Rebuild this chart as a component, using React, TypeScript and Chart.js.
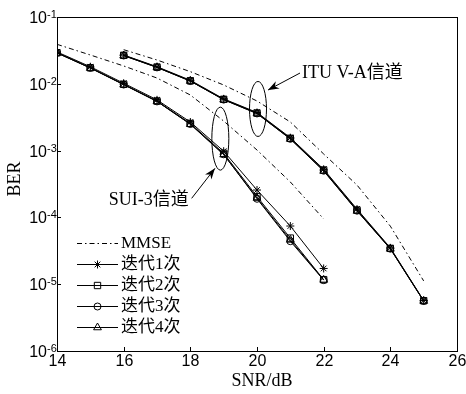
import React, { useEffect, useRef } from "react";
import { Chart, registerables } from "chart.js";
import { drawPoint } from "chart.js/helpers";

Chart.register(...registerables);

// ---------- data ----------
const snrSui = [14, 15, 16, 17, 18, 19, 20, 21, 22];
const snrItu = [16, 17, 18, 19, 20, 21, 22, 23, 24, 25];

const suiMmse = [3.9e-2, 2.7e-2, 1.85e-2, 1.22e-2, 6.8e-3, 2.77e-3, 1.02e-3, 3.39e-4, 9.5e-5];
const suiIter1 = [3.0e-2, 1.8e-2, 1.02e-2, 5.75e-3, 2.68e-3, 9.8e-4, 2.57e-4, 7.43e-5, 1.72e-5];
const suiIter2 = [2.92e-2, 1.74e-2, 9.84e-3, 5.53e-3, 2.55e-3, 9.12e-4, 2.05e-4, 4.9e-5, 1.17e-5];
const suiIter3 = [2.9e-2, 1.73e-2, 9.75e-3, 5.45e-3, 2.5e-3, 8.8e-4, 1.9e-4, 4.4e-5, 1.15e-5];
const suiIter4 = [2.9e-2, 1.72e-2, 9.7e-3, 5.45e-3, 2.48e-3, 8.7e-4, 1.95e-4, 4.6e-5, 1.16e-5];

const ituMmse = [3.24e-2, 2.27e-2, 1.52e-2, 9.6e-3, 5.53e-3, 2.68e-3, 8.9e-4, 3.05e-4, 7.4e-5, 1.12e-5];
const ituIter1 = [2.7e-2, 1.8e-2, 1.13e-2, 5.95e-3, 3.72e-3, 1.56e-3, 5.25e-4, 1.33e-4, 3.5e-5, 5.7e-6];
const ituIter2 = [2.67e-2, 1.78e-2, 1.11e-2, 5.86e-3, 3.66e-3, 1.53e-3, 5.13e-4, 1.29e-4, 3.44e-5, 5.66e-6];
const ituIter3 = [2.65e-2, 1.76e-2, 1.1e-2, 5.8e-3, 3.6e-3, 1.5e-3, 5.0e-4, 1.26e-4, 3.4e-5, 5.6e-6];
const ituIter4 = [2.64e-2, 1.76e-2, 1.1e-2, 5.78e-3, 3.58e-3, 1.49e-3, 4.95e-4, 1.25e-4, 3.38e-5, 5.6e-6];

const legendLabels = ["MMSE", "迭代1次", "迭代2次", "迭代3次", "迭代4次"];
const xTicks = [14, 16, 18, 20, 22, 24, 26];
const yExponents = [-1, -2, -3, -4, -5, -6];
const xTitle = "SNR/dB";
const yTitle = "BER";
const ituLabel = "ITU V-A信道";
const suiLabel = "SUI-3信道";

// ---------- annotation anchors (data coords) ----------
const ituEllipse = { x: 20.03, y: 4.2e-3, rx: 8.5, ry: 27.5 };
const suiEllipse = { x: 18.9, y: 1.51e-3, rx: 8.5, ry: 31.5 };
const ituArrow = { x0: 21.29, y0: 1.45e-2, x1: 20.33, y1: 8.07e-3 };
const suiArrow = { x0: 18.04, y0: 1.93e-4, x1: 18.74, y1: 5.43e-4 };
const ituText = { x: 21.35, y: 1.45e-2 };
const suiText = { x: 17.95, y: 1.8e-4 };

const SERIF = "'Liberation Serif', 'Noto Sans CJK SC', serif";
const SANS = "'Liberation Sans', Arial, sans-serif";

const kindStyles: any[] = [
  { borderDash: [5, 3, 1.5, 3], pointRadius: 0, pointStyle: false },
  { pointStyle: "star", pointRadius: 4 },
  { pointStyle: "rect", pointRadius: 4.5 },
  { pointStyle: "circle", pointRadius: 3.5 },
  { pointStyle: "triangle", pointRadius: 4.5 },
];

const base = {
  borderColor: "#000",
  borderWidth: 1,
  pointBorderColor: "#000",
  pointBackgroundColor: "rgba(0,0,0,0)",
  pointBorderWidth: 1,
  pointHoverRadius: 0,
  fill: false,
  tension: 0,
};

function mk(label: string, xs: number[], ys: number[], kind: number) {
  return {
    label,
    data: xs.map((x, i) => ({ x, y: ys[i] })),
    ...base,
    ...kindStyles[kind],
  };
}

function arrow(ctx: CanvasRenderingContext2D, x0: number, y0: number, x1: number, y1: number) {
  ctx.beginPath();
  ctx.moveTo(x0, y0);
  ctx.lineTo(x1, y1);
  ctx.stroke();
  const a = Math.atan2(y1 - y0, x1 - x0);
  const L = 11, W = 4;
  const bx = x1 - L * Math.cos(a), by = y1 - L * Math.sin(a);
  const nx = x1 - 0.7 * L * Math.cos(a), ny = y1 - 0.7 * L * Math.sin(a);
  const px = -Math.sin(a), py = Math.cos(a);
  ctx.beginPath();
  ctx.moveTo(x1, y1);
  ctx.lineTo(bx + W * px, by + W * py);
  ctx.lineTo(nx, ny);
  ctx.lineTo(bx - W * px, by - W * py);
  ctx.closePath();
  ctx.fill();
}

const decor = {
  id: "decor",
  afterDraw(chart: any) {
    const { ctx, chartArea: ca } = chart;
    const xs = chart.scales.x, ys = chart.scales.y;
    ctx.save();
    ctx.strokeStyle = "#000";
    ctx.fillStyle = "#000";
    ctx.lineWidth = 1;
    ctx.setLineDash([]);
    // frame
    ctx.strokeRect(Math.round(ca.left) + 0.5, Math.round(ca.top) + 0.5, Math.round(ca.right - ca.left), Math.round(ca.bottom - ca.top));
    // x ticks
    ctx.font = `16px ${SANS}`;
    ctx.textAlign = "center";
    ctx.textBaseline = "middle";
    xTicks.forEach((t) => {
      const px = Math.round(xs.getPixelForValue(t)) + 0.5;
      ctx.beginPath();
      ctx.moveTo(px, ca.bottom);
      ctx.lineTo(px, ca.bottom - 4);
      ctx.stroke();
      ctx.fillText(String(t), px, ca.bottom + 11);
    });
    // y ticks
    yExponents.forEach((e) => {
      const py = Math.round(ys.getPixelForValue(Math.pow(10, e))) + 0.5;
      ctx.beginPath();
      ctx.moveTo(ca.left, py);
      ctx.lineTo(ca.left + 4, py);
      ctx.stroke();
      ctx.font = `16px ${SANS}`;
      ctx.textAlign = "right";
      ctx.textBaseline = "middle";
      ctx.fillText("10", ca.left - 10, py + 1);
      ctx.font = `11px ${SANS}`;
      ctx.textAlign = "left";
      ctx.textBaseline = "alphabetic";
      ctx.fillText(String(e), ca.left - 10, py);
    });
    // axis titles
    ctx.font = `18px ${SERIF}`;
    ctx.textAlign = "center";
    ctx.textBaseline = "middle";
    ctx.fillText(xTitle, 262, 381);
    ctx.save();
    ctx.translate(15, 179);
    ctx.rotate(-Math.PI / 2);
    ctx.fillText(yTitle, 0, 0);
    ctx.restore();
    // ellipses
    [ituEllipse, suiEllipse].forEach((el) => {
      ctx.beginPath();
      ctx.ellipse(xs.getPixelForValue(el.x), ys.getPixelForValue(el.y), el.rx, el.ry, 0, 0, Math.PI * 2);
      ctx.stroke();
    });
    // arrows
    [ituArrow, suiArrow].forEach((ar) => {
      arrow(ctx, xs.getPixelForValue(ar.x0), ys.getPixelForValue(ar.y0), xs.getPixelForValue(ar.x1), ys.getPixelForValue(ar.y1));
    });
    // labels
    ctx.font = `18px ${SERIF}`;
    ctx.textBaseline = "middle";
    ctx.textAlign = "left";
    ctx.fillText(ituLabel, xs.getPixelForValue(ituText.x), ys.getPixelForValue(ituText.y));
    ctx.textAlign = "right";
    ctx.fillText(suiLabel, xs.getPixelForValue(suiText.x), ys.getPixelForValue(suiText.y));
    // legend
    const lx0 = 77, lx1 = 118, ly0 = 243, step = 21;
    legendLabels.forEach((lab, i) => {
      const y = ly0 + i * step + 0.5;
      const st = kindStyles[i];
      ctx.setLineDash(st.borderDash || []);
      ctx.beginPath();
      ctx.moveTo(lx0, y);
      ctx.lineTo(lx1, y);
      ctx.stroke();
      ctx.setLineDash([]);
      if (st.pointStyle) {
        ctx.fillStyle = "rgba(0,0,0,0)";
        drawPoint(ctx, { pointStyle: st.pointStyle, radius: st.pointRadius, rotation: 0, borderWidth: 1 } as any, (lx0 + lx1) / 2, y);
        ctx.fillStyle = "#000";
      }
      ctx.font = `17px ${SERIF}`;
      ctx.textAlign = "left";
      ctx.textBaseline = "middle";
      ctx.fillText(lab, lx1 + 3, y);
    });
    ctx.restore();
  },
};

export default function App() {
  const ref = useRef<HTMLCanvasElement>(null);
  useEffect(() => {
    if (!ref.current) return;
    const chart = new Chart(ref.current, {
      type: "line",
      data: {
        datasets: [
          mk("SUI MMSE", snrSui, suiMmse, 0),
          mk("ITU MMSE", snrItu, ituMmse, 0),
          mk("SUI 1", snrSui, suiIter1, 1),
          mk("SUI 2", snrSui, suiIter2, 2),
          mk("SUI 3", snrSui, suiIter3, 3),
          mk("SUI 4", snrSui, suiIter4, 4),
          mk("ITU 1", snrItu, ituIter1, 1),
          mk("ITU 2", snrItu, ituIter2, 2),
          mk("ITU 3", snrItu, ituIter3, 3),
          mk("ITU 4", snrItu, ituIter4, 4),
        ] as any,
      },
      options: {
        responsive: false,
        animation: false,
        devicePixelRatio: 1,
        layout: { padding: { left: 57, top: 17, right: 9, bottom: 43 } },
        plugins: { legend: { display: false }, tooltip: { enabled: false } },
        events: [],
        scales: {
          x: { type: "linear", min: 14, max: 26, display: false },
          y: { type: "logarithmic", min: 1e-6, max: 1e-1, display: false },
        },
      },
      plugins: [decor],
    });
    return () => chart.destroy();
  }, []);
  return (
    <div style={{ position: "fixed", left: 0, top: 0, width: 466, height: 394, background: "#fff" }}>
      <canvas ref={ref} width={466} height={394} style={{ width: 466, height: 394 }} />
    </div>
  );
}
